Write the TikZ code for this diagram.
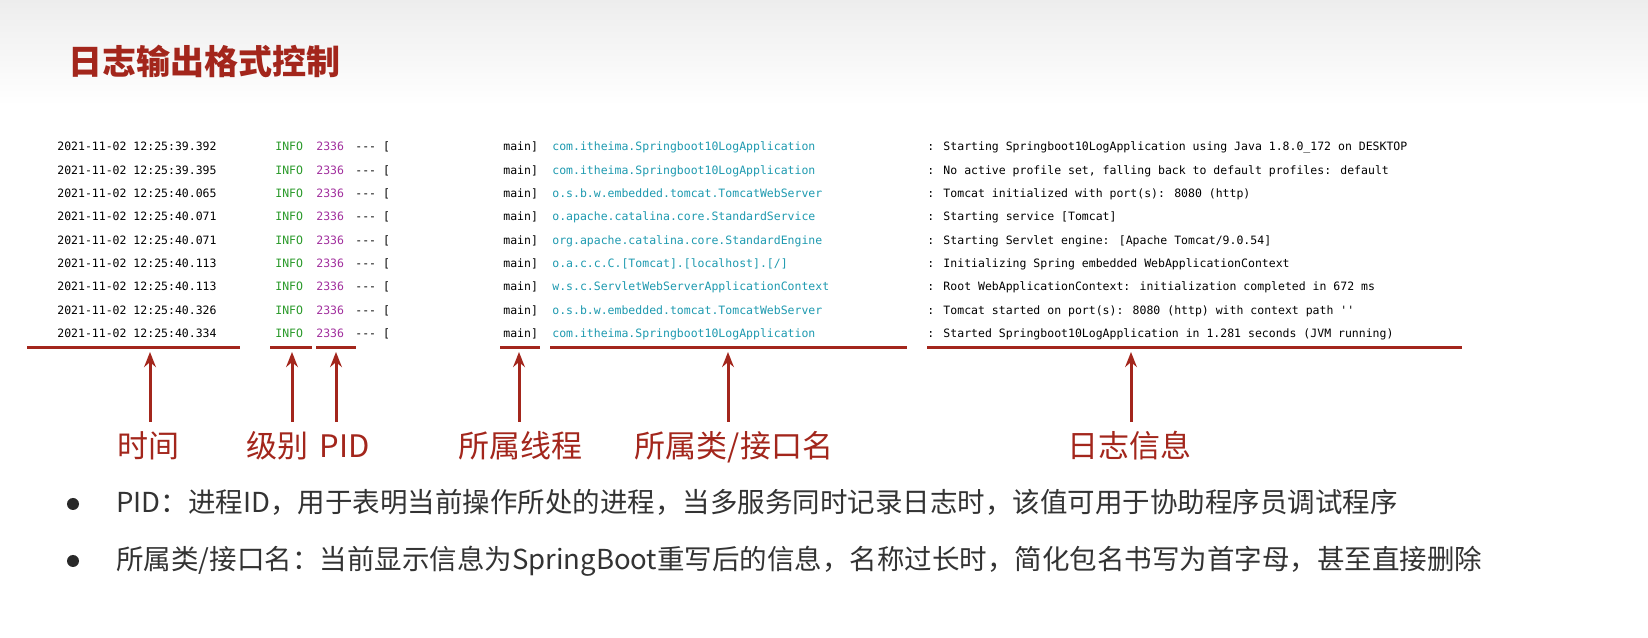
\documentclass[tikz,border=0pt]{standalone}
\usepackage{fontspec}
\setmainfont{Noto Sans CJK SC}
\newfontfamily\logmono{DejaVu Sans Mono}
\usetikzlibrary{arrows.meta}
\definecolor{dred}{HTML}{A3261C}
\definecolor{lgreen}{HTML}{2A9A2A}
\definecolor{lpurple}{HTML}{A2309E}
\definecolor{lteal}{HTML}{1E9AB0}
\definecolor{btxt}{HTML}{333333}
\begin{document}
\begin{tikzpicture}[x=0.6pt,y=-0.6pt,
  lg/.style={anchor=base west,inner sep=0,font=\logmono\fontsize{6.9pt}{8pt}\selectfont},
  ul/.style={draw=dred,line width=1.8pt},
  ar/.style={draw=dred,line width=1.8pt,-{Stealth[length=9pt,width=7pt]}},
  lab/.style={anchor=base,inner sep=0,text=dred,font=\fontsize{18.6pt}{20pt}\selectfont},
  bt/.style={anchor=base west,inner sep=0,text=btxt,font=\fontsize{16.5pt}{18pt}\selectfont}]
\useasboundingbox (0,0) rectangle (1648,638);
\fill[white] (0,0) rectangle (1648,638);
\shade[top color=gray!14,bottom color=white] (0,0) rectangle (1648,105);
\node[anchor=base west,inner sep=0,text=dred,font=\bfseries\fontsize{20.4pt}{22pt}\selectfont] (title) at (68,75) {日志输出格式控制};
\begin{scope}
\clip (0,120) rectangle (1452,350);
\foreach \t/\c/\m [count=\i] in {
39.392/{com.itheima.Springboot10LogApplication}/{Starting Springboot10LogApplication using Java 1.8.0\_172 on DESKTOP},
39.395/{com.itheima.Springboot10LogApplication}/{No active profile set, falling back to default profiles: default},
40.065/{o.s.b.w.embedded.tomcat.TomcatWebServer}/{Tomcat initialized with port(s): 8080 (http)},
40.071/{o.apache.catalina.core.StandardService}/{Starting service [Tomcat]},
40.071/{org.apache.catalina.core.StandardEngine}/{Starting Servlet engine: [Apache Tomcat/9.0.54]},
40.113/{o.a.c.c.C.[Tomcat].[localhost].[/]}/{Initializing Spring embedded WebApplicationContext},
40.113/{w.s.c.ServletWebServerApplicationContext}/{Root WebApplicationContext: initialization completed in 672 ms},
40.326/{o.s.b.w.embedded.tomcat.TomcatWebServer}/{Tomcat started on port(s): 8080 (http) with context path ''},
40.334/{com.itheima.Springboot10LogApplication}/{Started Springboot10LogApplication in 1.281 seconds (JVM running)}}{
  \pgfmathsetmacro\yy{151+(\i-1)*23.3}
  \node[lg] (d\i) at (57,\yy) {2021-11-02 12:25:\t};
  \node[lg,text=lgreen] (l\i) at (275,\yy) {INFO};
  \node[lg,text=lpurple] (p\i) at (316,\yy) {2336};
  \node[lg] (s\i) at (355,\yy) {--- [};
  \node[lg] (th\i) at (503,\yy) {main]};
  \node[lg,text=lteal] (c\i) at (552,\yy) {\c};
  \node[lg] (m\i) at (927,\yy) {: \m};
}
\end{scope}
\coordinate (u1a) at (27,348); \coordinate (u1b) at (240,348);
\coordinate (u2a) at (270,348); \coordinate (u2b) at (312,348);
\coordinate (u3a) at (316,348); \coordinate (u3b) at (356,348);
\coordinate (u4a) at (500,348); \coordinate (u4b) at (540,348);
\coordinate (u5a) at (550,348); \coordinate (u5b) at (907,348);
\coordinate (u6a) at (927,348); \coordinate (u6b) at (1462,348);
\foreach \k in {1,...,6} \draw[ul] (u\k a) -- (u\k b);
\foreach \k/\x in {1/150,2/292,3/336,4/519,5/728,6/1131}{
  \coordinate (as\k) at (\x,422); \coordinate (ae\k) at (\x,352);
  \draw[ar] (as\k) -- (ae\k);
}
\node[lab] (t1) at (148,458) {时间};
\node[lab] (t2) at (277,458) {级别};
\node[lab] (t3) at (345,458) {PID};
\node[lab] (t4) at (520,458) {所属线程};
\node[lab] (t5) at (734,458) {所属类/接口名};
\node[lab] (t6) at (1129,458) {日志信息};
\fill[btxt!80!black] (73,504) circle (6);
\fill[btxt!80!black] (73,561) circle (6);
\node[bt] (b1) at (116,513) {PID：进程ID，用于表明当前操作所处的进程，当多服务同时记录日志时，该值可用于协助程序员调试程序};
\node[bt] (b2) at (116,570) {所属类/接口名：当前显示信息为SpringBoot重写后的信息，名称过长时，简化包名书写为首字母，甚至直接删除};
\end{tikzpicture}
\end{document}
